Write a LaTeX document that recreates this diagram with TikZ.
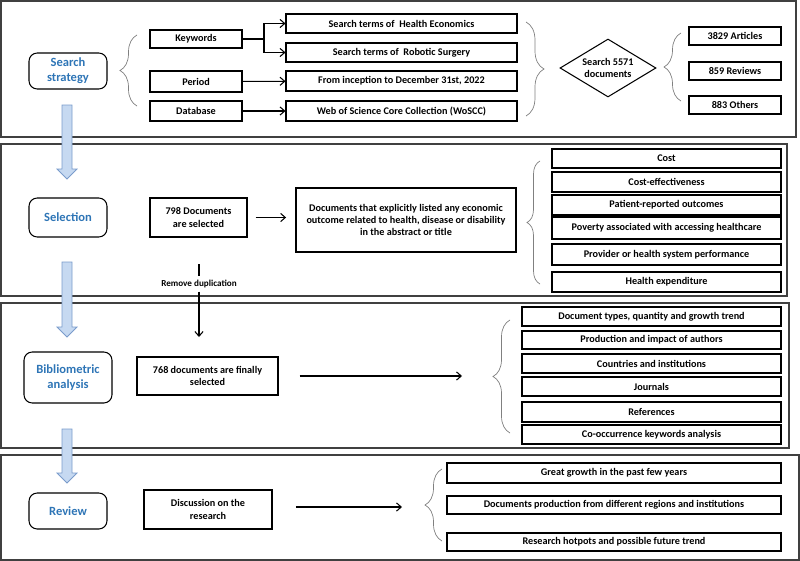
\documentclass[tikz,border=0pt]{standalone}
\usepackage{fontspec}
\setmainfont{Carlito}
\usetikzlibrary{shapes.geometric,arrows.meta,decorations.pathreplacing,positioning}
\definecolor{stageblue}{HTML}{2E75B6}
\definecolor{arrowfill}{HTML}{C6D9F1}
\definecolor{arrowline}{HTML}{7A9CCB}
\definecolor{panelgray}{HTML}{404040}
\tikzset{
 box/.style 2 args={draw, line width=0.9pt, minimum width=#1*0.03cm, minimum height=#2*0.03cm,
  inner sep=1pt, align=center, font=\fontsize{8.7}{10.6}\selectfont\bfseries},
 stage/.style 2 args={draw, rounded corners=7pt, line width=0.9pt, minimum width=#1*0.03cm,
  minimum height=#2*0.03cm, align=center, text=stageblue, font=\fontsize{10.7}{13}\selectfont\bfseries},
 panel/.style={draw=panelgray, line width=1.2pt},
 curly/.style={decorate, decoration={brace, amplitude=#1*0.03cm}, draw=gray, line width=0.6pt},
 flow/.style={fill=arrowfill, draw=arrowline, line width=0.7pt},
 >={Straight Barb[length=4pt,width=7pt]}
}
\begin{document}
\begin{tikzpicture}[x=0.03cm,y=-0.03cm]
 \useasboundingbox (0,0) rectangle (800,561);
 % panels
 \draw[panel] (1,1) rectangle (796,137);
 \draw[panel] (1,144) rectangle (787,296);
 \draw[panel] (1,303) rectangle (789,448);
 \draw[panel] (1,455) rectangle (799,560);

 % stages
 \node (st1) at (68,71) [stage={78}{36}] {Search\\strategy};
 \node (st2) at (68,217.5) [stage={78}{39}] {Selection};
 \node (st3) at (68,377.5) [stage={88}{51}] {Bibliometric\\analysis};
 \node (st4) at (68,511) [stage={78}{36}] {Review};

 % search strategy
 \node (kw) at (196,39) [box={92}{18}] {Keywords};
 \node (per) at (196,81.5) [box={92}{21}] {Period};
 \node (db) at (196,111) [box={92}{20}] {Database};
 \node (t1) at (401.5,23.5) [box={231}{19}] {Search terms of \ Health Economics};
 \node (t2) at (401.5,52.5) [box={231}{19}] {Search terms of \ Robotic Surgery};
 \node (t3) at (401.5,81) [box={231}{20}] {From inception to December 31st, 2022};
 \node (t4) at (401.5,111) [box={231}{20}] {Web of Science Core Collection (WoSCC)};
 \node (dia) at (608,68) [draw, line width=0.9pt, diamond, aspect=1.65, inner sep=0pt,
  minimum width=96*0.03cm, minimum height=58*0.03cm, align=center,
  font=\fontsize{8.7}{10.6}\selectfont\bfseries] {Search 5571\\documents};
 \node (a1) at (735,36) [box={92}{18}] {3829 Articles};
 \node (a2) at (735,71) [box={92}{18}] {859 Reviews};
 \node (a3) at (735,105) [box={92}{18}] {883 Others};

 % selection
 \node (s798) at (198.5,217.5) [box={97}{39}] {798 Documents\\are selected};
 \node (sdoc) at (406,220) [box={220}{64}] {Documents that explicitly listed any economic\\
  outcome related to health, disease or disability\\in the abstract or title};
 \foreach \y/\h/\txt [count=\i] in {158.5/19/Cost, 182/20/Cost-effectiveness,
  205/20/Patient-reported outcomes, 228/22/Poverty associated with accessing healthcare,
  254.5/21/Provider or health system performance, 282/20/Health expenditure} {
  \node (sel\i) at (666.5,\y) [box={229}{\h}] {\txt};
 }

 % bibliometric analysis
 \node (b768) at (207.5,376) [box={141}{38}] {768 documents are finally\\selected};
 \foreach \y/\h/\txt [count=\i] in {316.5/19/{Document types, quantity and growth trend},
  340/18/Production and impact of authors, 363.5/19/Countries and institutions,
  386.5/19/Journals, 412/20/References, 434.5/19/Co-occurrence keywords analysis} {
  \node (bib\i) at (651.5,\y) [box={259}{\h}] {\txt};
 }

 % review
 \node (rdis) at (208,509.5) [box={128}{39}] {Discussion on the\\research};
 \foreach \y/\h/\txt [count=\i] in {473/20/Great growth in the past few years,
  505/18/Documents production from different regions and institutions,
  542/18/Research hotpots and possible future trend} {
  \node (rev\i) at (614,\y) [box={334}{\h}] {\txt};
 }

 % braces
 \draw[curly=17] (137,106) -- (137,35);
 \draw[curly=18] (526,22) -- (526,116);
 \draw[curly=17] (681,101) -- (681,33);
 \draw[curly=13] (540,284) -- (540,161);
 \draw[curly=17] (510,433) -- (510,320);
 \draw[curly=17] (442,541) -- (442,469);

 % block arrows
 \foreach \ya/\yb in {105/179, 262/337, 429/483} {
  \draw[flow] (62,\ya) -- (72,\ya) -- (72,\yb-10) -- (77,\yb-10) -- (67,\yb)
   -- (57,\yb-10) -- (62,\yb-10) -- cycle;
 }

 % coordinates
 \coordinate (fork) at (264,39);
 \coordinate (dup) at (199,264);
 \coordinate (dupend) at (199,337);
 \coordinate (e3) at (462,376);
 \coordinate (e4) at (402,507);
 \node (rm) at (199,284) [inner xsep=1pt, inner ysep=3pt, font=\fontsize{7.8}{9}\selectfont\bfseries] {Remove duplication};

 % connectors
 \draw[line width=0.9pt] (kw.east) -- (fork);
 \draw[->, line width=0.9pt] (fork) |- (t1.west);
 \draw[->, line width=0.9pt] (fork) |- (t2.west);
 \draw[->, line width=0.9pt] (per) -- (t3);
 \draw[->, line width=0.9pt] (db) -- (t4);
 \draw[->, line width=0.9pt, shorten <=7pt, shorten >=8pt] (s798.east) -- (s798.east -| sdoc.west);
 \draw[line width=0.9pt] (dup) -- (rm);
 \draw[->, line width=0.9pt] (rm) -- (dupend);
 \draw[->, line width=0.9pt, shorten <=18pt] (b768.east) -- (e3);
 \draw[->, line width=0.9pt, shorten <=20pt] (rdis.east |- e4) -- (e4);
\end{tikzpicture}
\end{document}
